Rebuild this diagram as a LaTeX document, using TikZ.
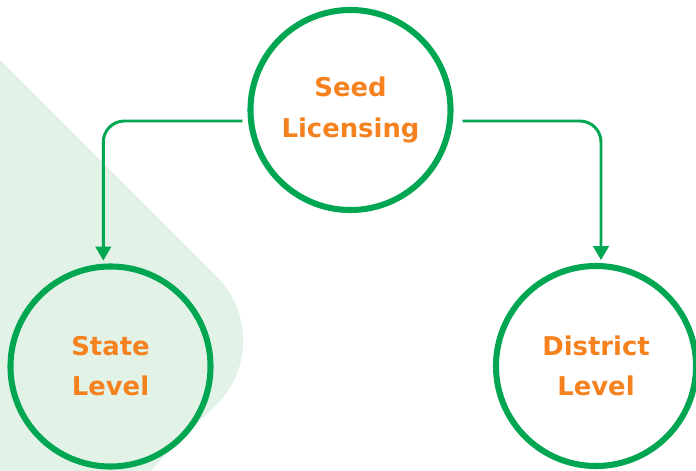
\documentclass[tikz,border=0pt]{standalone}
\usepackage{fontspec}
\setmainfont{DejaVu Sans}
\usetikzlibrary{arrows.meta}
\definecolor{leafgreen}{HTML}{00A651}
\definecolor{paleleaf}{HTML}{E3F2E6}
\definecolor{seedorange}{HTML}{F5821F}

\begin{document}
\begin{tikzpicture}[x=0.025cm, y=-0.025cm, shorten >=2pt]
  \tikzstyle{level}=[circle,draw=leafgreen,line width=4.3pt,minimum size=5cm,inner sep=0pt,
    align=center,text=seedorange,font=\fontsize{18.4}{28.5}\selectfont\bfseries]
  \tikzstyle{link}=[draw=leafgreen,line width=2.1pt,rounded corners=15pt,
    -{Triangle[width=11pt,length=10pt]}]

  \useasboundingbox (0, 0) rectangle (696, 471);

  % pale band behind the left circle
  \fill[paleleaf, rounded corners=64pt] (-200, -140) -- (280.5, 340.5) -- (-100, 721) -- (-300, 721) -- cycle;

  \node[level] at (350.5, 110) (seed) {Seed\\Licensing};

  \node[level] at (110.5, 366.5) (state) {State\\Level};

  \node[level] at (596, 366) (district) {District\\Level};

  \draw[link] ([shift={(-5, 11)}]seed.west) -| ([xshift=-0.18cm]state.north);

  \draw[link] ([shift={(9, 11)}]seed.east) -| ([xshift=0.125cm]district.north);

  \end{tikzpicture}
\end{document}
